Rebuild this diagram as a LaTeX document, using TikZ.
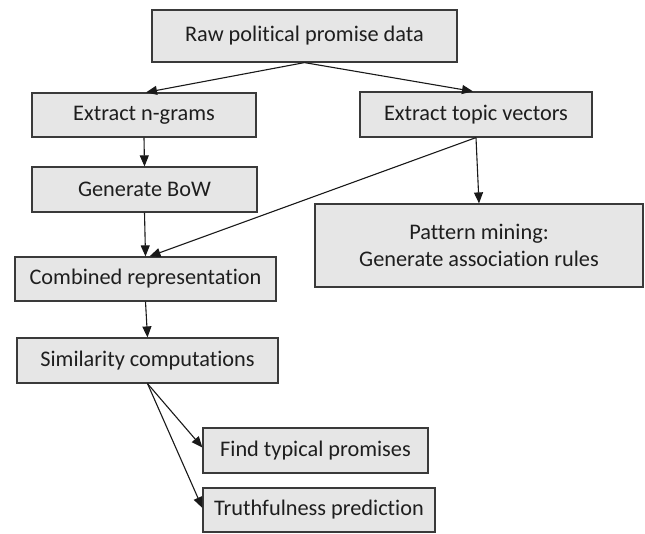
\documentclass[tikz,border=0pt]{standalone}
\usepackage{fontspec}
\setmainfont[Ligatures={NoCommon}]{Carlito}
\usetikzlibrary{arrows.meta,shadows,calc}
\definecolor{boxfill}{HTML}{E6E6E6}
\definecolor{boxline}{HTML}{3A3A3A}
\definecolor{txt}{HTML}{1E1E1E}
\tikzset{
  box/.style={draw=boxline, line width=1.2pt, fill=boxfill, inner sep=0pt,
    align=center, text=txt, font=\fontsize{22.3}{27}\selectfont,
    drop shadow={opacity=0.35, shadow xshift=1.2pt, shadow yshift=-1.2pt}},
  conn/.style={draw=black!90, line width=1.1pt, -{Triangle[length=11pt,width=9pt]}}
}
\begin{document}
\begin{tikzpicture}[x=1pt,y=-1pt]
\useasboundingbox (0,0) rectangle (645,533);
\node[box, minimum width=305pt, minimum height=52pt] (raw) at (304.5,36) {Raw political promise data};
\node[box, minimum width=224pt, minimum height=44pt] (ngram) at (144,115) {Extract n-grams};
\node[box, minimum width=225pt, minimum height=45pt] (bow) at (144.5,189.5) {Generate BoW};
\node[box, minimum width=261pt, minimum height=44pt] (comb) at (145.5,279) {Combined representation};
\node[box, minimum width=232pt, minimum height=45pt] (topic) at (476,114.5) {Extract topic vectors};
\node[box, minimum width=328pt, minimum height=83pt] (pattern) at (479,245.5) {Pattern mining:\\Generate association rules};
\node[box, minimum width=261pt, minimum height=45pt] (sim) at (147.5,360.5) {Similarity computations};
\node[box, minimum width=225pt, minimum height=45pt] (find) at (315.5,450.5) {Find typical promises};
\node[box, minimum width=232pt, minimum height=44pt] (truth) at (319,510) {Truthfulness prediction};
\draw[conn] (raw.south) -- ($(ngram.north)+(2,0)$);
\draw[conn] (raw.south) -- ($(topic.north)+(-3,0)$);
\draw[conn] (ngram.south) -- (bow.north);
\draw[conn] (bow.south) -- (comb.north);
\draw[conn] (topic.south) -- ($(comb.north)+(4,0)$);
\draw[conn] (topic.south) -- (pattern.north);
\draw[conn] (comb.south) -- (sim.north);
\draw[conn] (sim.south) -- ($(find.west)+(0,-3)$);
\draw[conn] (sim.south) -- ($(truth.west)+(0,-2)$);
\end{tikzpicture}
\end{document}
